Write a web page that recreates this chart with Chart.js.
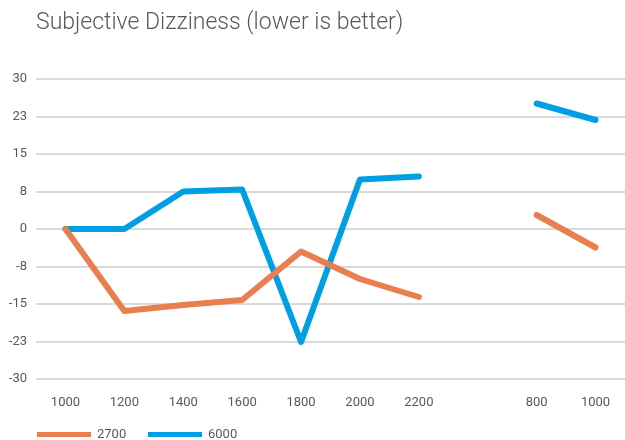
<!DOCTYPE html>
<html>
<head>
<meta charset="utf-8">
<script src="https://cdn.jsdelivr.net/npm/chart.js@4"></script>
<style>
  body { margin: 0; background: #fff; }
  #wrap { position: relative; width: 625px; height: 440px; font-family: Roboto, sans-serif; }
  #title { position: absolute; left: 36px; top: 8px; font-size: 23px; font-weight: 300; color: #595959; white-space: nowrap; }
  #myChart { position: absolute; left: 0; top: 0; }
  .leg { position: absolute; top: 426px; font-size: 13px; color: #595959; }
  .leg span { display: inline-block; width: 54px; height: 5px; vertical-align: middle; margin-right: 6px; }
</style>
</head>
<body>
<div id="wrap">
  <canvas id="myChart" width="625" height="440"></canvas>
  <div id="title">Subjective Dizziness (lower is better)</div>
  <div class="leg" style="left:37px"><span style="background:#E97F4F"></span>2700</div>
  <div class="leg" style="left:148px"><span style="background:#009FE3"></span>6000</div>
</div>
<script>
const categories = ["1000", "1200", "1400", "1600", "1800", "2000", "2200", "", "800", "1000"];
const series2700 = [0, -16.4, -15.2, -14.2, -4.5, -10, -13.6, null, 2.8, -3.7];
const series6000 = [0, 0, 7.5, 7.9, -22.6, 9.9, 10.5, null, 25.1, 21.8];
const yTicks = [-30, -22.5, -15, -7.5, 0, 7.5, 15, 22.5, 30];

window.onload = function () {
  const ctx = document.getElementById("myChart");

  // Excel rounds half away from zero (22.5 -> 23, -7.5 -> -8)
  const roundLabel = (v) => Math.sign(v) * Math.round(Math.abs(v));

  new Chart(ctx, {
    type: "line",
    data: {
      labels: categories,
      datasets: [
        { label: "2700", data: series2700, borderColor: "#E97F4F", backgroundColor: "#E97F4F" },
        { label: "6000", data: series6000, borderColor: "#009FE3", backgroundColor: "#009FE3" },
      ],
    },
    options: {
      responsive: false,
      animation: false,
      layout: { padding: { top: 79, right: 0, bottom: 0, left: 0 } },
      elements: {
        line: { borderWidth: 6, borderCapStyle: "round", borderJoinStyle: "round", tension: 0 },
        point: { radius: 0 },
      },
      plugins: { legend: { display: false }, title: { display: false }, tooltip: { enabled: false } },
      scales: {
        x: {
          offset: true,
          grid: { display: false },
          border: { display: false },
          ticks: { color: "#595959", font: { family: "Roboto", size: 13 }, padding: 8, maxRotation: 0, autoSkip: false },
          afterFit: (scale) => { scale.height = 61; },
        },
        y: {
          min: -30,
          max: 30,
          afterBuildTicks: (scale) => { scale.ticks = yTicks.map((v) => ({ value: v })); },
          grid: { color: "#d9d9d9", lineWidth: 2, drawTicks: false },
          border: { display: false },
          ticks: {
            color: "#595959",
            font: { family: "Roboto", size: 13 },
            padding: 9,
            callback: (v) => roundLabel(v),
          },
          afterFit: (scale) => { scale.width = 36; },
        },
      },
    },
  });
};
</script>
</body>
</html>
